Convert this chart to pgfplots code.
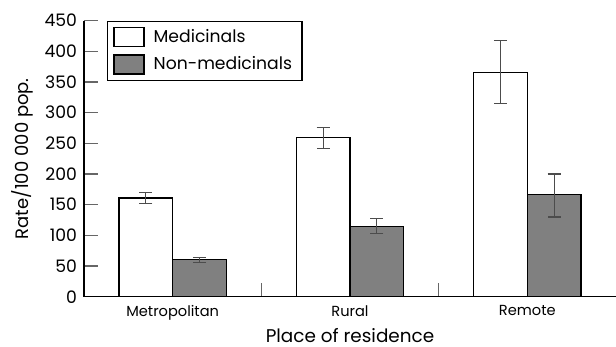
\documentclass[border=0pt]{standalone}
\usepackage{fontspec}
\setmainfont{Poppins}
\usepackage{pgfplots}
\pgfplotsset{compat=1.18}
\definecolor{barfill}{HTML}{808080}
\begin{document}
\begin{tikzpicture}
\begin{axis}[
  scale only axis,
  width=266pt, height=138pt,
  ybar=0pt,
  bar width=0.303,
  xmin=-0.5, xmax=2.5,
  ymin=0, ymax=450,
  axis lines*=left,
  axis line style={black, line width=0.7pt},
  ytick={0,50,...,450},
  tick align=inside,
  major tick length=7pt,
  tick style={black!60, line width=0.6pt},
  xtick={0.5,1.5},
  xticklabels={},
  extra x ticks={0,1,2},
  extra x tick labels={Metropolitan,Rural,Remote},
  extra x tick style={major tick length=0pt, tick label style={font=\fontsize{7.3}{9}\selectfont, yshift=-1pt}},
  /pgf/number format/assume math mode=true,
  yticklabel style={font=\fontsize{8.6}{10}\selectfont, xshift=0pt},
  xlabel={Place of residence},
  xlabel style={font=\fontsize{9.2}{11}\selectfont, yshift=3pt},
  ylabel={Rate/100 000 pop.},
  ylabel style={font=\fontsize{9}{10}\selectfont, yshift=-1pt},
  legend style={at={(0.043,1)}, anchor=north west, draw=black, line width=0.6pt,
    font=\fontsize{8.6}{10}\selectfont, inner xsep=3pt, inner ysep=2pt, row sep=1.5pt,
    column sep=2.5pt},
  legend cell align=left,
  legend image code/.code={\draw[#1, line width=0.6pt] (0pt,-4.75pt) rectangle (15pt,4.75pt);},
  error bars/y dir=both,
  error bars/y explicit,
  error bars/error bar style={black!70, line width=0.6pt},
  error bars/error mark options={rotate=90, mark size=3.25pt, black!70, line width=0.6pt},
]
\addplot[fill=white, draw=black, line width=0.6pt, bar shift=-0.1515]
  coordinates {(0,161) +- (0,8.5) (1,260) += (0,15.5) -= (0,19) (2,366) += (0,51.5) -= (0,51.5)};
\addlegendentry{Medicinals}
\addplot[fill=barfill, draw=black, line width=0.6pt, bar shift=0.1515]
  coordinates {(0,60) +- (0,4.5) (1,115) += (0,12.5) -= (0,12) (2,166) += (0,34) -= (0,36)};
\addlegendentry{Non-medicinals}
\end{axis}
\pgfresetboundingbox
\path[use as bounding box] ([xshift=-42pt,yshift=-25.15pt]current axis.south west) rectangle ([yshift=10.35pt]current axis.north east);
\end{tikzpicture}
\end{document}
